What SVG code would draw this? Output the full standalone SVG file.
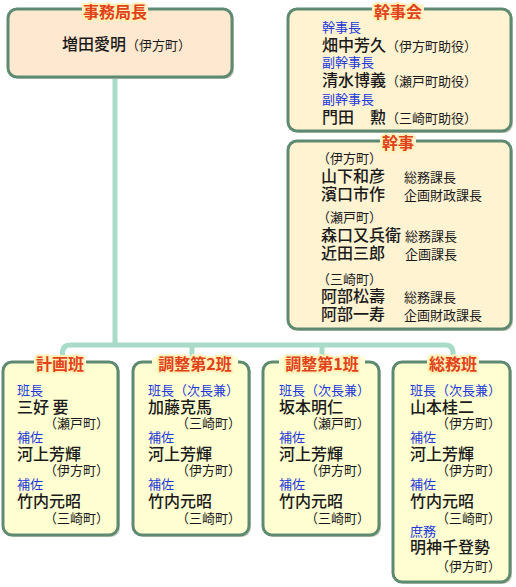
<svg xmlns="http://www.w3.org/2000/svg" width="516" height="587" viewBox="0 0 516 587">
<style>
text{font-family:"Noto Sans CJK JP","Noto Sans CJK SC",sans-serif;}
.box{stroke:#5e8a72;stroke-width:3;}
.sh{fill:#cfcfc0;}
.f1{fill:#ffe8d0;}
.f2{fill:#fff3d2;}
.f3{fill:#ffffd2;}
.ttl{font-size:16px;font-weight:bold;fill:#e0421a;stroke:#fff0b8;stroke-width:4;stroke-linejoin:round;paint-order:stroke;text-anchor:middle;}
.nm{font-size:16px;fill:#1a1a1a;font-weight:500;}
.sm{font-size:13px;fill:#1a1a1a;}
.lb{font-size:13px;fill:#2438d8;}
.tw{font-size:13px;fill:#1a1a1a;text-anchor:end;}
.con{fill:none;stroke:#a8dcc8;stroke-width:5;}
</style>
<rect width="516" height="587" fill="#ffffff"/>
<g id="connectors">
<path class="con" d="M115,78 V345"/>
<path class="con" d="M62.5,362 V353 Q62.5,345 70.5,345 H445 Q453,345 453,353 V362"/>
<path class="con" d="M192,345 V362"/>
<path class="con" d="M322,345 V362"/>
</g>
<g id="jimukyokucho">
<rect class="sh" x="10" y="11" width="224" height="68" rx="9"/>
<rect class="box f1" x="8" y="9" width="224" height="68" rx="9"/>
<rect class="f1" x="82" y="4" width="66" height="10"/>
<text class="ttl" x="115" y="18">事務局長</text>
<text x="62" y="50"><tspan class="nm">増田愛明</tspan><tspan class="sm">（伊方町）</tspan></text>
</g>
<g id="kanjikai">
<rect class="sh" x="290" y="11" width="223" height="122" rx="9"/>
<rect class="box f2" x="288" y="9" width="223" height="122" rx="9"/>
<rect class="f2" x="372" y="4" width="52" height="10"/>
<text class="ttl" x="398" y="18">幹事会</text>
<text class="lb" x="322" y="32">幹事長</text>
<text x="322" y="51"><tspan class="nm">畑中芳久</tspan><tspan class="sm">（伊方町助役）</tspan></text>
<text class="lb" x="322" y="67">副幹事長</text>
<text x="322" y="86"><tspan class="nm">清水博義</tspan><tspan class="sm">（瀬戸町助役）</tspan></text>
<text class="lb" x="322" y="104">副幹事長</text>
<text x="322" y="123"><tspan class="nm">門田　勲</tspan><tspan class="sm">（三崎町助役）</tspan></text>
</g>
<g id="kanji">
<rect class="sh" x="290" y="143" width="223" height="188" rx="9"/>
<rect class="box f2" x="288" y="141" width="223" height="188" rx="9"/>
<rect class="f2" x="380" y="136" width="36" height="10"/>
<text class="ttl" x="398" y="149">幹事</text>
<text class="sm" x="317" y="163">（伊方町）</text>
<text class="nm" x="321" y="182">山下和彦</text>
<text class="sm" x="404" y="182">総務課長</text>
<text class="nm" x="321" y="200">濱口市作</text>
<text class="sm" x="404" y="200">企画財政課長</text>
<text class="sm" x="317" y="222">（瀬戸町）</text>
<text class="nm" x="321" y="241">森口又兵衛</text>
<text class="sm" x="405" y="241">総務課長</text>
<text class="nm" x="321" y="259">近田三郎</text>
<text class="sm" x="405" y="259">企画課長</text>
<text class="sm" x="317" y="284">（三崎町）</text>
<text class="nm" x="321" y="302">阿部松壽</text>
<text class="sm" x="404" y="302">総務課長</text>
<text class="nm" x="321" y="320">阿部一寿</text>
<text class="sm" x="404" y="320">企画財政課長</text>
</g>
<g id="keikakuhan">
<rect class="sh" x="5" y="364" width="115" height="173" rx="9"/>
<rect class="box f3" x="3" y="362" width="115" height="173" rx="9"/>
<rect class="f3" x="34" y="357" width="52" height="10"/>
<text class="ttl" x="60" y="370">計画班</text>
<text class="lb" x="17" y="395">班長</text>
<text class="nm" x="17" y="413">三好 要</text>
<text class="tw" x="109" y="428">（瀬戸町）</text>
<text class="lb" x="17" y="442">補佐</text>
<text class="nm" x="17" y="460">河上芳輝</text>
<text class="tw" x="109" y="475">（伊方町）</text>
<text class="lb" x="17" y="489">補佐</text>
<text class="nm" x="17" y="507">竹内元昭</text>
<text class="tw" x="109" y="523">（三崎町）</text>
</g>
<g id="chosei2han">
<rect class="sh" x="135" y="364" width="116" height="173" rx="9"/>
<rect class="box f3" x="133" y="362" width="116" height="173" rx="9"/>
<rect class="f3" x="152" y="357" width="86" height="10"/>
<text class="ttl" x="195" y="370">調整第2班</text>
<text class="lb" x="148" y="395">班長（次長兼）</text>
<text class="nm" x="148" y="413">加藤克馬</text>
<text class="tw" x="241" y="428">（三崎町）</text>
<text class="lb" x="148" y="442">補佐</text>
<text class="nm" x="148" y="460">河上芳輝</text>
<text class="tw" x="241" y="475">（伊方町）</text>
<text class="lb" x="148" y="489">補佐</text>
<text class="nm" x="148" y="507">竹内元昭</text>
<text class="tw" x="241" y="523">（三崎町）</text>
</g>
<g id="chosei1han">
<rect class="sh" x="265" y="364" width="116" height="173" rx="9"/>
<rect class="box f3" x="263" y="362" width="116" height="173" rx="9"/>
<rect class="f3" x="279" y="357" width="86" height="10"/>
<text class="ttl" x="322" y="370">調整第1班</text>
<text class="lb" x="279" y="395">班長（次長兼）</text>
<text class="nm" x="279" y="413">坂本明仁</text>
<text class="tw" x="370" y="428">（瀬戸町）</text>
<text class="lb" x="279" y="442">補佐</text>
<text class="nm" x="279" y="460">河上芳輝</text>
<text class="tw" x="370" y="475">（伊方町）</text>
<text class="lb" x="279" y="489">補佐</text>
<text class="nm" x="279" y="507">竹内元昭</text>
<text class="tw" x="370" y="523">（三崎町）</text>
</g>
<g id="somuhan">
<rect class="sh" x="395" y="364" width="117" height="220" rx="9"/>
<rect class="box f3" x="393" y="362" width="117" height="220" rx="9"/>
<rect class="f3" x="427" y="357" width="52" height="10"/>
<text class="ttl" x="453" y="370">総務班</text>
<text class="lb" x="410" y="395">班長（次長兼）</text>
<text class="nm" x="410" y="413">山本桂二</text>
<text class="tw" x="501" y="428">（伊方町）</text>
<text class="lb" x="410" y="442">補佐</text>
<text class="nm" x="410" y="460">河上芳輝</text>
<text class="tw" x="501" y="475">（伊方町）</text>
<text class="lb" x="410" y="489">補佐</text>
<text class="nm" x="410" y="507">竹内元昭</text>
<text class="tw" x="501" y="523">（三崎町）</text>
<text class="lb" x="410" y="536">庶務</text>
<text class="nm" x="410" y="553">明神千登勢</text>
<text class="tw" x="501" y="571">（伊方町）</text>
</g>
</svg>
